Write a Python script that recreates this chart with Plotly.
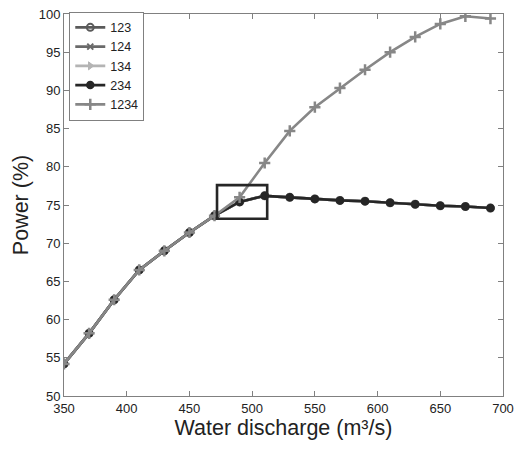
import plotly.graph_objects as go

# Water discharge (m³/s)
discharge = [350, 370, 390, 410, 430, 450, 470, 490, 510, 530,
             550, 570, 590, 610, 630, 650, 670, 690]

# Power (%) for three-unit combinations (they coincide)
power_123 = [54.2, 58.2, 62.6, 66.5, 69.0, 71.4, 73.6, 75.4, 76.2, 76.0,
             75.8, 75.6, 75.5, 75.3, 75.1, 74.9, 74.8, 74.6]
power_124 = list(power_123)
power_134 = list(power_123)
power_234 = list(power_123)

# Power (%) with all four units
power_1234 = [54.2, 58.2, 62.6, 66.5, 69.0, 71.4, 73.6, 76.0, 80.5, 84.7,
              87.8, 90.3, 92.7, 95.0, 97.0, 98.7, 99.7, 99.4]

# Highlighted region around the branching point
zoom_box_x = [472, 512]
zoom_box_y = [73.2, 77.6]

series = [
    ("123", power_123, "#5a5a5a", "circle-open", 7, 2),
    ("124", power_124, "#6a6a6a", "x-thin-open", 6, 2),
    ("134", power_134, "#b4b4b4", "triangle-right", 7, 1),
    ("234", power_234, "#262626", "circle", 7, 1.5),
    ("1234", power_1234, "#878787", "cross-thin-open", 8, 2.5),
]

fig = go.Figure()
for name, vals, color, symbol, size, mlw in series:
    fig.add_trace(go.Scatter(
        x=discharge, y=vals, name=name, mode="lines+markers",
        line=dict(color=color, width=2.6),
        marker=dict(symbol=symbol, size=size, color=color,
                    line=dict(color=color, width=mlw)),
    ))

fig.add_shape(type="rect", x0=zoom_box_x[0], x1=zoom_box_x[1],
              y0=zoom_box_y[0], y1=zoom_box_y[1],
              line=dict(color="#262626", width=2.6), fillcolor="rgba(0,0,0,0)")

axis_common = dict(
    showgrid=False, zeroline=False, showline=True, linecolor="#808080",
    linewidth=1, mirror="ticks", ticks="inside", ticklen=5,
    tickcolor="#808080", tickfont=dict(family="Liberation Sans, Arial", size=13, color="#222"),
)

fig.update_layout(
    width=521, height=455,
    margin=dict(l=64, r=11, t=7, b=59),
    paper_bgcolor="white", plot_bgcolor="white",
    font=dict(family="Liberation Sans, Arial", color="#222"),
    xaxis=dict(range=[350, 700], dtick=50, title=dict(
        text="Water discharge (m³/s)", font=dict(size=21.5), standoff=5), **axis_common),
    yaxis=dict(range=[50, 100], dtick=5, title=dict(
        text="Power (%)", font=dict(size=21.5), standoff=4), **axis_common),
    legend=dict(x=0.012, y=1.006, xanchor="left", yanchor="top",
                bgcolor="white", bordercolor="#808080", borderwidth=1,
                font=dict(size=12.5, color="#222"), itemwidth=30,
                tracegroupgap=0),
    showlegend=True,
)

fig.write_html("out.html")
